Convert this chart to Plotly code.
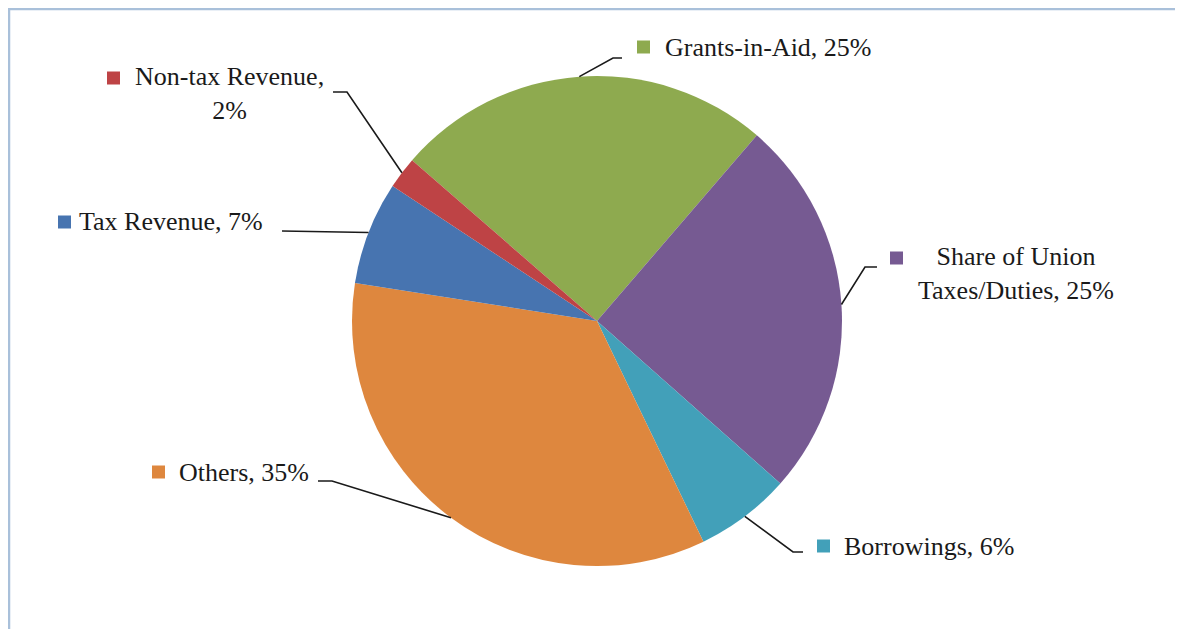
import math
import plotly.graph_objects as go

# ---- data ----
categories = ["Grants-in-Aid", "Share of Union Taxes/Duties", "Borrowings",
              "Others", "Tax Revenue", "Non-tax Revenue"]
display_names = ["Grants-in-Aid", "Share of Union<br>Taxes/Duties", "Borrowings",
                 "Others", "Tax Revenue", "Non-tax Revenue,<br>"]
values = [24.9, 25.2, 6.3, 34.6, 6.8, 2.1]
colors = ["#8EAA4F", "#765A92", "#42A0B9", "#DE873E", "#4774B0", "#BE4345"]

# ---- layout constants (reference pixels; page body has an 8px margin) ----
OFF = 8
W, H = 1183 - OFF, 629 - OFF
CX, CY, R = 597, 321, 245
ROT = -49

def px(x):
    return (x - OFF) / W

def py(y):
    return 1 - (y - OFF) / H

total = sum(values)
pcts = [round(100 * v / total) for v in values]
label_texts = []
for name, p in zip(display_names, pcts):
    if name.endswith("<br>"):
        label_texts.append(f"{name}{p}%")
    else:
        label_texts.append(f"{name}, {p}%")

fig = go.Figure()
fig.add_trace(go.Pie(
    labels=categories, values=values, sort=False, direction="clockwise",
    rotation=ROT, marker=dict(colors=colors, line=dict(width=0)),
    textinfo="none", hoverinfo="label+percent", showlegend=False,
    domain=dict(x=[px(CX - R), px(CX + R)], y=[py(CY + R), py(CY - R)]),
))

# label placement
placements = [
    dict(mx=637, my=47, tx=663, ty=47, anchor="left", elbow=[(613, 58), (622, 58)]),
    dict(mx=890, my=258, tx=1016, ty=273, anchor="center", elbow=[(865, 267), (877, 267)]),
    dict(mx=817, my=546, tx=842, ty=546, anchor="left", elbow=[(793, 552), (803, 552)]),
    dict(mx=152, my=472, tx=177, ty=472, anchor="left", elbow=[(332, 481), (318, 481)]),
    dict(mx=58, my=222, tx=77, ty=222, anchor="left", elbow=[(282, 231)]),
    dict(mx=107, my=78, tx=229, ty=94, anchor="center", elbow=[(347, 92), (333, 92)]),
]

start = ROT
shapes = []
annotations = []
for v, txt, col, p in zip(values, label_texts, colors, placements):
    span = 360 * v / total
    mid = math.radians(start + span / 2)
    start += span
    ex = CX + R * math.sin(mid)
    ey = CY - R * math.cos(mid)
    pts = [(ex, ey)] + p["elbow"]
    path = "M " + " L ".join(f"{px(x):.5f},{py(y):.5f}" for x, y in pts)
    shapes.append(dict(type="path", xref="paper", yref="paper", path=path,
                       line=dict(color="#1a1a1a", width=1.6)))
    s = 13
    shapes.append(dict(type="rect", xref="paper", yref="paper",
                       x0=px(p["mx"]), x1=px(p["mx"] + s),
                       y0=py(p["my"] + s / 2), y1=py(p["my"] - s / 2),
                       fillcolor=col, line=dict(width=0)))
    annotations.append(dict(text=txt, xref="paper", yref="paper",
                            x=px(p["tx"]), y=py(p["ty"]), xanchor=p["anchor"],
                            yanchor="middle", showarrow=False, align="center",
                            font=dict(family="Liberation Serif", size=26, color="#1a1a1a")))

# outer frame
shapes.append(dict(type="rect", xref="paper", yref="paper",
                   x0=px(9), x1=px(1179), y0=py(650), y1=py(9),
                   line=dict(color="#A9C0DA", width=2.5), fillcolor="rgba(0,0,0,0)",
                   layer="above"))

fig.update_layout(
    width=W, height=H, margin=dict(l=0, r=0, t=0, b=0),
    paper_bgcolor="white", plot_bgcolor="white",
    shapes=shapes, annotations=annotations,
)
fig.write_html("out.html")
